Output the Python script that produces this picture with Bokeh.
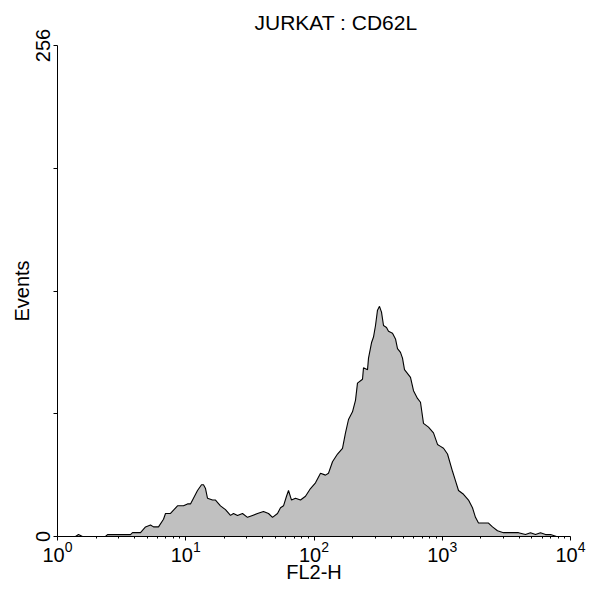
from bokeh.plotting import figure
from bokeh.models import FixedTicker, LogTickFormatter, ColumnDataSource
from bokeh.embed import file_html
from bokeh.resources import INLINE

title_text = "JURKAT : CD62L"
x_label = "FL2-H"
y_label = "Events"
x_ticks = [1, 10, 100, 1000, 10000]
y_ticks = [0, 64, 128, 192, 256]
y_tick_labels = {64: "", 128: "", 192: ""}

fl2h = [1, 1.382, 1.458, 1.566, 2.367, 2.455, 3.709, 3.845, 4.438, 4.856,
        5.311, 5.605, 6.132, 6.707, 6.952, 7.605, 8.624, 9.101, 9.605, 10.32,
        10.89, 11.49, 12.35, 13.27, 13.75, 14.26, 14.77, 16.17, 17.06, 18.66,
        20.41, 22.33, 23.57, 25.32, 27.70, 30.30, 33.15, 36.26, 40.39, 44.19,
        47.48, 51.93, 54.81, 57.84, 61.04, 63.28, 66.78, 71.74, 78.47, 85.84,
        93.90, 102.7, 112.4, 122.9, 129.7, 139.4, 152.5, 166.8, 176.0, 185.8,
        199.6, 210.6, 218.3, 238.9, 243.2, 261.4, 266.1, 280.8, 291.0, 301.7,
        312.7, 324.1, 336.0, 348.3, 367.6, 381.0, 409.4, 432.0, 447.8, 472.5,
        489.8, 507.7, 565.5, 596.8, 641.2, 676.6, 714.1, 781.0, 854.5, 918.4,
        969.2, 1023, 1099, 1202, 1269, 1339, 1465, 1602, 1721, 1816,
        1917, 2097, 2294, 2465, 2696, 3003, 3406, 3932, 4458, 4877,
        5335, 5836, 6385, 6984, 7779, 10000]
events = [0, 0, 1, 0, 0, 1, 1, 2, 2, 5,
          6, 5, 5, 9, 12, 12, 16, 16, 16, 17,
          17, 20, 24, 27, 27, 25, 20, 19, 19, 16,
          14, 11, 12, 11, 12, 10, 11, 12, 13, 12,
          10, 12, 15, 16, 21, 24, 19, 20, 19, 21,
          25, 28, 33, 32, 33, 39, 43, 46, 54, 61,
          65, 71, 80, 82, 88, 87, 93, 101, 104, 110,
          118, 120, 117, 110, 109, 107, 106, 103, 98, 96,
          93, 87, 83, 76, 72, 70, 59, 57, 54, 48,
          47, 46, 43, 34, 29, 24, 22, 19, 15, 10,
          7, 7, 7, 5, 3, 2, 2, 2, 1, 2,
          1, 2, 1, 1, 0, 0]

FONT = "Liberation Sans"
FS = "20px"

src = ColumnDataSource(dict(x=fl2h, y=events))

p = figure(x_axis_type="log", x_range=(1, 10000), y_range=(0, 256),
           frame_width=513, frame_height=491,
           min_border_left=57, min_border_right=27, min_border_top=45, min_border_bottom=50,
           output_backend="svg", toolbar_location=None, title=title_text)

p.varea(x="x", y1=0, y2="y", source=src, fill_color="#c0c0c0")
p.line(x="x", y="y", source=src, line_color="black", line_width=1.1)

p.outline_line_color = None
p.grid.visible = False
p.background_fill_color = "white"
p.border_fill_color = "white"

p.title.text_font = FONT
p.title.text_font_size = "21px"
p.title.text_font_style = "normal"
p.title.text_color = "black"
p.title.align = "left"
p.title.offset = 197
p.title.standoff = 12
p.title.padding = dict(top=0, bottom=6, left=0, right=0)

xa = p.xaxis[0]
xa.ticker = FixedTicker(ticks=x_ticks,
                        minor_ticks=[m * 10 ** d for d in range(4) for m in range(2, 10)])
xa.formatter = LogTickFormatter()
xa.axis_label = x_label
ya = p.yaxis[0]
ya.ticker = FixedTicker(ticks=y_ticks)
ya.major_label_overrides = y_tick_labels
ya.major_label_orientation = "vertical"
ya.axis_label = y_label

for ax in (xa, ya):
    ax.axis_line_color = "black"
    ax.axis_line_width = 1
    ax.major_tick_line_color = "black"
    ax.minor_tick_line_color = "black"
    ax.major_tick_in = 0
    ax.major_tick_out = 4
    ax.minor_tick_in = 0
    ax.minor_tick_out = 2
    ax.major_label_text_font = FONT
    ax.major_label_text_font_size = FS
    ax.major_label_text_color = "black"
    ax.axis_label_text_font = FONT
    ax.axis_label_text_font_size = FS
    ax.axis_label_text_font_style = "normal"
    ax.axis_label_text_color = "black"
ya.minor_tick_line_color = None
xa.major_label_standoff = 0
xa.axis_label_standoff = -4
ya.major_label_standoff = 4
ya.axis_label_standoff = 0

open("out.html", "w").write(file_html(p, INLINE))
